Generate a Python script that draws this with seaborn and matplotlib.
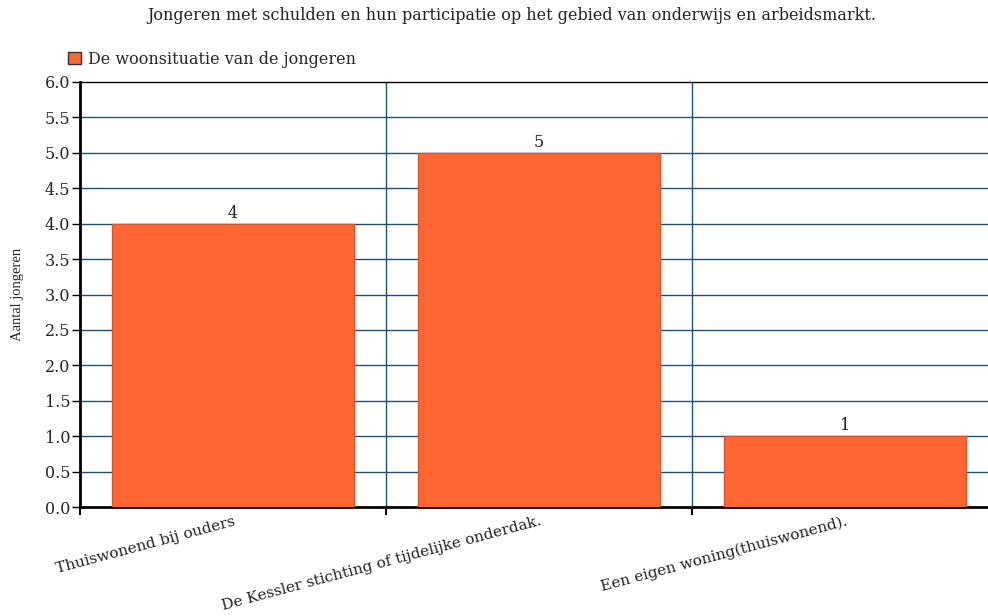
import matplotlib
matplotlib.use("Agg")
import matplotlib.pyplot as plt
import seaborn as sns
import pandas as pd
from matplotlib.patches import Patch

categories = ["Thuiswonend bij ouders", "De Kessler stichting of tijdelijke onderdak.", "Een eigen woning(thuiswonend)."]
values = [4, 5, 1]
series_name = "De woonsituatie van de jongeren"
title = "Jongeren met schulden en hun participatie op het gebied van onderwijs en arbeidsmarkt."
ylabel = "Aantal jongeren"

sns.set_style("white")
plt.rcParams['font.family'] = ['DejaVu Serif']
FS = 11.5

df = pd.DataFrame({"cat": categories, "val": values})

fig = plt.figure(figsize=(9.88, 6.16), dpi=100)
W, H = 988, 616
ax = fig.add_axes([80 / W, 1 - 507 / H, (998 - 80) / W, (507 - 82) / H])

color = "#FF6633"
sns.barplot(data=df, x="cat", y="val", color=color, saturation=1, width=0.79,
            edgecolor="#D9542B", linewidth=1, ax=ax, zorder=3)

ax.set_xlim(-0.5, 2.5)
ax.set_ylim(0, 6)
ax.set_yticks([i * 0.5 for i in range(13)])
ax.set_yticklabels([f"{i*0.5:.1f}" for i in range(13)], fontsize=FS)
ax.set_xticks([-0.5, 0.5, 1.5])
ax.set_xticklabels([])
ax.grid(False)
for yv in [i * 0.5 for i in range(1, 12)]:
    ax.axhline(yv, color="#1F4E79", lw=1, zorder=1)
for xv in [0.5, 1.5]:
    ax.axvline(xv, color="#1F4E79", lw=1, zorder=1)

for i, c in enumerate(categories):
    ax.text(i, -0.1, c, rotation=15, ha="right", va="top", rotation_mode="anchor",
            fontsize=11, color="#222222")

for i, v in enumerate(values):
    ax.text(i, v + 0.03, str(v), ha="center", va="bottom", fontsize=FS, color="#222222")

ax.tick_params(axis="y", direction="out", length=6, width=1, color="black", pad=1, left=True)
ax.tick_params(axis="x", direction="out", length=6, width=1.5, color="black", bottom=True)
for s in ["left", "bottom"]:
    ax.spines[s].set_linewidth(2)
    ax.spines[s].set_color("black")
ax.spines["top"].set_linewidth(1)
ax.spines["top"].set_color("black")
ax.spines["right"].set_visible(False)

ax.set_xlabel("")
ax.set_ylabel(ylabel, fontsize=10.5, family="Liberation Serif")
ax.yaxis.set_label_coords(-56 / 918, 0.5)

fig.text(512 / W, 1 - 16 / H, title, ha="center", va="center", fontsize=FS, color="#222222")

fig.legend(handles=[Patch(facecolor=color, edgecolor="#333333", label=series_name)],
           loc="center left", bbox_to_anchor=(62 / W, 1 - 59 / H), frameon=False,
           fontsize=FS, handlelength=0.8, handleheight=0.8, handletextpad=0.4, borderaxespad=0)

fig.savefig("out.png", dpi=100)
